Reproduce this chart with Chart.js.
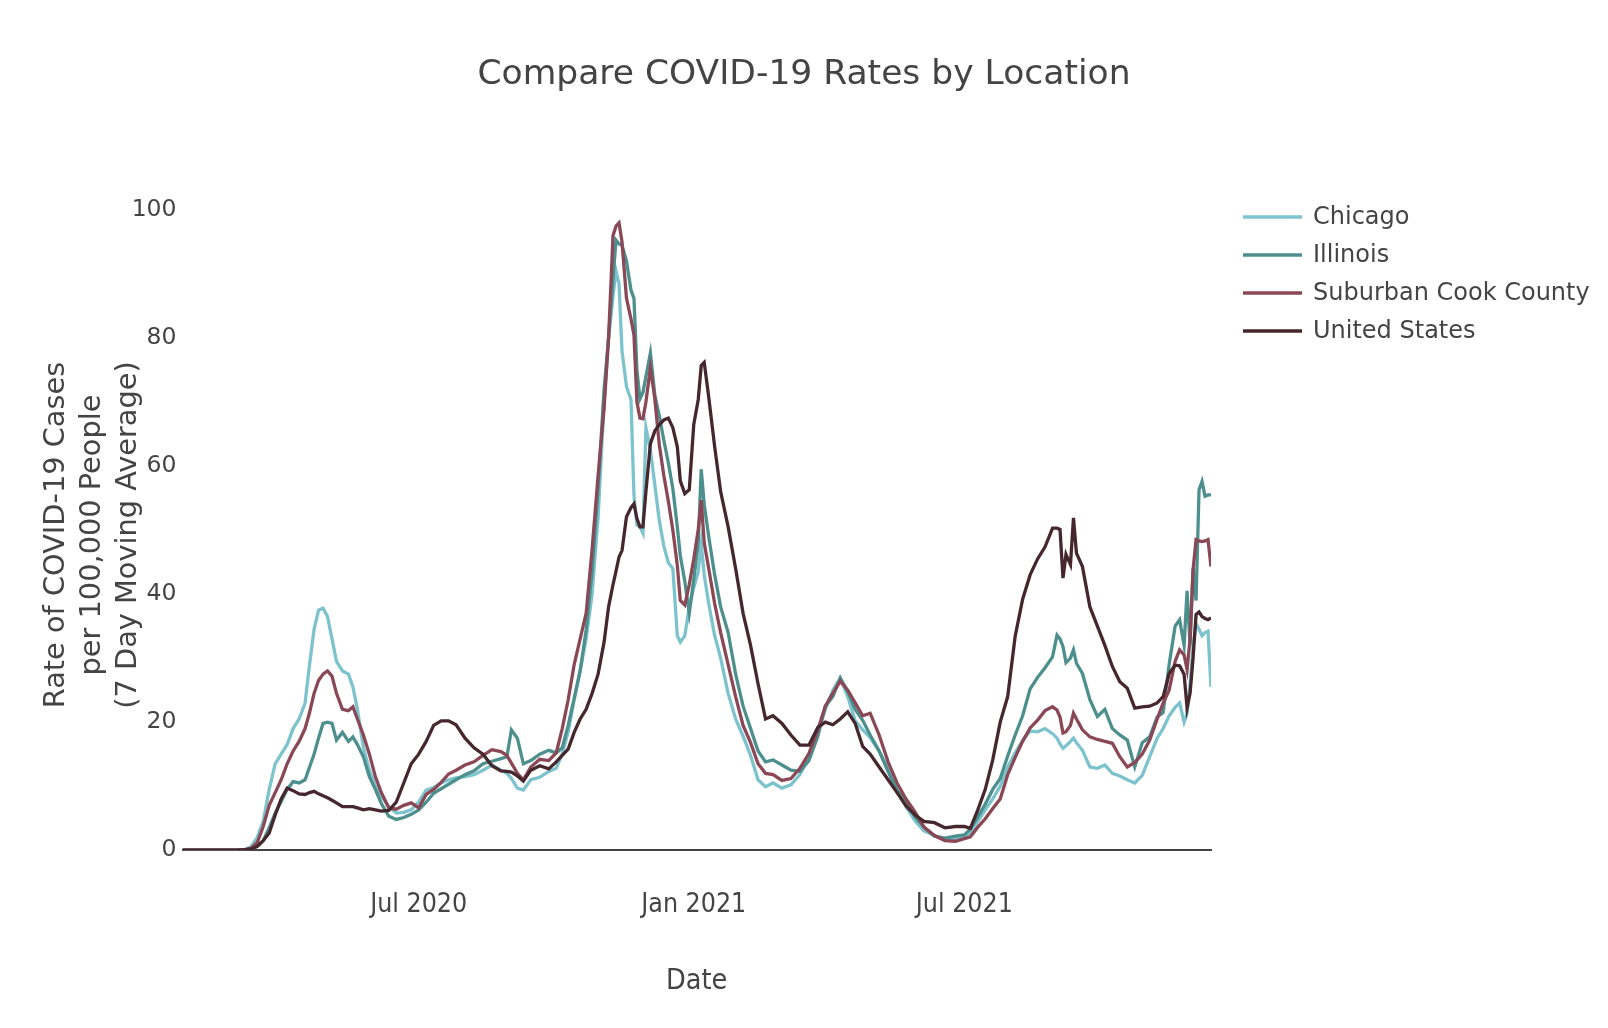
<!DOCTYPE html>
<html>
<head>
<meta charset="utf-8">
<title>Compare COVID-19 Rates by Location</title>
<script src="https://cdn.jsdelivr.net/npm/chart.js@4.4.1/dist/chart.umd.min.js"></script>
<style>
  html, body { margin: 0; padding: 0; background: #fff; }
  #wrap { width: 1608px; height: 1028px; }
</style>
</head>
<body>
<div id="wrap"><canvas id="chart" width="1608" height="1028"></canvas></div>
<script>
// Fechas muestreadas (media movil de 7 dias)
const dates = [
  '2020-01-25', '2020-03-01', '2020-03-07', '2020-03-11', '2020-03-15', '2020-03-19', '2020-03-23', '2020-03-27',
  '2020-03-31', '2020-04-04', '2020-04-08', '2020-04-12', '2020-04-16', '2020-04-19', '2020-04-22', '2020-04-25',
  '2020-04-28', '2020-05-01', '2020-05-04', '2020-05-07', '2020-05-11', '2020-05-15', '2020-05-18', '2020-05-21',
  '2020-05-25', '2020-05-29', '2020-06-02', '2020-06-06', '2020-06-11', '2020-06-16', '2020-06-21', '2020-06-26',
  '2020-07-01', '2020-07-06', '2020-07-11', '2020-07-16', '2020-07-21', '2020-07-26', '2020-08-01', '2020-08-07',
  '2020-08-13', '2020-08-19', '2020-08-25', '2020-08-29', '2020-09-01', '2020-09-05', '2020-09-09', '2020-09-14',
  '2020-09-20', '2020-09-26', '2020-10-01', '2020-10-05', '2020-10-09', '2020-10-13', '2020-10-17', '2020-10-21',
  '2020-10-25', '2020-10-29', '2020-11-02', '2020-11-05', '2020-11-08', '2020-11-10', '2020-11-12', '2020-11-14',
  '2020-11-17', '2020-11-20', '2020-11-22', '2020-11-24', '2020-11-26', '2020-11-28', '2020-11-30', '2020-12-03',
  '2020-12-06', '2020-12-09', '2020-12-12', '2020-12-15', '2020-12-18', '2020-12-21', '2020-12-23', '2020-12-26',
  '2020-12-29', '2021-01-01', '2021-01-04', '2021-01-06', '2021-01-08', '2021-01-11', '2021-01-15', '2021-01-19',
  '2021-01-24', '2021-01-29', '2021-02-03', '2021-02-08', '2021-02-13', '2021-02-18', '2021-02-23', '2021-03-01',
  '2021-03-07', '2021-03-13', '2021-03-19', '2021-03-25', '2021-03-30', '2021-04-04', '2021-04-09', '2021-04-14',
  '2021-04-19', '2021-04-24', '2021-04-29', '2021-05-05', '2021-05-11', '2021-05-17', '2021-05-23', '2021-05-29',
  '2021-06-04', '2021-06-11', '2021-06-18', '2021-06-25', '2021-07-01', '2021-07-05', '2021-07-10', '2021-07-15',
  '2021-07-20', '2021-07-25', '2021-07-30', '2021-08-04', '2021-08-09', '2021-08-14', '2021-08-19', '2021-08-24',
  '2021-08-29', '2021-09-01', '2021-09-03', '2021-09-05', '2021-09-07', '2021-09-10', '2021-09-12', '2021-09-14',
  '2021-09-18', '2021-09-23', '2021-09-28', '2021-10-03', '2021-10-08', '2021-10-13', '2021-10-18', '2021-10-23',
  '2021-10-28', '2021-11-02', '2021-11-07', '2021-11-11', '2021-11-15', '2021-11-19', '2021-11-22', '2021-11-25',
  '2021-11-27', '2021-11-29', '2021-12-01', '2021-12-03', '2021-12-05', '2021-12-07', '2021-12-09', '2021-12-11',
  '2021-12-13'
];

const chicago = [
  0, 0, 0.1, 0.6, 2.0, 4.5, 9.5, 13.5,
  15.0, 16.5, 19.0, 20.5, 23.0, 29.0, 34.5, 37.5,
  37.8, 36.5, 33.0, 29.5, 28.0, 27.5, 25.5, 22.0,
  16.0, 12.5, 10.0, 8.5, 6.8, 5.8, 5.9, 6.3,
  7.5, 9.4, 9.8, 10.5, 11.0, 11.3, 11.5, 11.8,
  12.5, 13.3, 12.5, 12.0, 11.2, 9.7, 9.4, 11.0,
  11.4, 12.3, 12.8, 15.0, 18.5, 23.5, 28.0, 33.0,
  40.0, 52.0, 70.0, 80.0, 86.5, 90.5, 88.5, 78.0,
  72.4, 70.4, 55.4, 50.8, 50.5, 49.5, 66.0, 62.5,
  57.0, 51.4, 47.5, 44.9, 44.0, 33.5, 32.5, 33.5,
  38.0, 41.0, 43.5, 47.8, 43.0, 38.5, 33.5, 30.0,
  24.5, 20.5, 17.8, 14.8, 11.0, 9.9, 10.5, 9.7,
  10.2, 11.8, 14.5, 18.5, 22.0, 25.0, 26.9, 24.0,
  20.2, 18.8, 17.6, 15.5, 12.8, 9.7, 6.8, 4.6,
  3.0, 2.3, 1.6, 1.8, 2.1, 2.8, 4.5, 6.3,
  8.0, 10.0, 13.0, 15.2, 17.2, 18.6, 18.5, 19.0,
  18.2, 17.5, 16.6, 15.9, 16.3, 17.0, 17.5, 16.8,
  15.6, 13.0, 12.8, 13.3, 12.0, 11.6, 11.0, 10.5,
  11.7, 14.6, 17.5, 19.0, 21.0, 22.3, 23.0, 20.0,
  21.4, 26.0, 31.8, 35.4, 34.5, 33.5, 34.0, 34.2,
  25.5
];

const illinois = [
  0, 0, 0.05, 0.2, 0.6, 1.5, 3.5, 5.8,
  7.6, 9.5, 10.7, 10.5, 11.0, 13.0, 15.0, 17.5,
  19.8, 20.0, 19.8, 17.2, 18.4, 17.0, 17.7, 16.5,
  14.6, 11.5, 9.5, 7.3, 5.3, 4.8, 5.1, 5.6,
  6.3, 7.5, 8.9, 9.6, 10.3, 11.0, 11.8, 12.4,
  13.5, 13.9, 14.3, 14.6, 18.8, 17.5, 13.5, 14.0,
  15.0, 15.6, 15.2, 16.0, 19.5, 23.7, 28.0, 34.4,
  43.5, 56.5, 72.0, 80.0, 89.4, 95.3, 94.7, 94.5,
  92.0, 87.5, 86.2, 75.0, 70.5, 71.5, 74.0, 77.7,
  71.0, 67.8, 64.0, 60.5, 56.5, 50.5, 46.0, 42.0,
  37.0, 42.3, 48.0, 59.5, 54.0, 49.0, 43.0, 38.0,
  34.0, 27.5, 22.5, 19.0, 15.5, 13.8, 14.1, 13.3,
  12.5, 12.3, 14.0, 17.8, 22.5, 24.0, 26.9, 24.8,
  22.0, 20.3, 18.0, 15.5, 12.3, 9.3, 7.8, 5.2,
  3.6, 2.2, 1.9, 2.2, 2.4, 3.3, 5.2, 7.2,
  9.5, 11.2, 14.7, 18.0, 21.0, 25.2, 27.0, 28.5,
  30.2, 33.6, 33.0, 31.8, 29.3, 30.0, 31.3, 29.2,
  27.6, 23.5, 20.9, 22.0, 19.0, 18.0, 17.2, 13.0,
  16.8, 17.7, 20.8, 21.5, 29.0, 35.0, 36.0, 32.0,
  40.5, 32.0, 44.0, 39.0, 56.3, 57.6, 55.3, 55.5,
  55.5
];

const suburbanCook = [
  0, 0, 0.1, 0.3, 1.2, 3.7, 7.0, 9.0,
  11.0, 13.5, 15.5, 17.0, 19.0, 21.5, 24.5, 26.5,
  27.5, 28.0, 27.2, 24.5, 22.0, 21.8, 22.4, 20.5,
  18.0, 15.0, 11.5, 9.0, 6.6, 6.4, 7.0, 7.4,
  6.6, 8.7, 9.5, 10.6, 11.9, 12.5, 13.3, 13.8,
  14.8, 15.7, 15.4, 14.8, 13.6, 12.0, 11.0, 13.0,
  14.2, 14.0, 15.2, 19.0, 23.5, 29.0, 33.0, 37.0,
  47.0, 58.5, 69.0, 80.0, 96.0, 97.5, 98.0, 95.0,
  86.2, 83.0, 80.5, 70.0, 67.5, 67.4, 70.0, 75.4,
  70.4, 63.2, 58.5, 54.5, 50.0, 44.5, 39.0, 38.3,
  41.5, 45.5, 50.1, 54.7, 48.0, 44.0, 38.5, 34.0,
  29.0, 24.0, 19.5, 16.8, 13.5, 12.0, 11.8, 10.9,
  11.2, 12.8, 15.1, 18.8, 22.5, 24.5, 26.4, 25.0,
  23.0, 21.0, 21.4, 18.0, 13.8, 10.5, 8.0, 6.0,
  3.6, 2.3, 1.5, 1.4, 1.8, 2.1, 3.6, 4.9,
  6.5, 8.0, 11.8, 14.5, 17.0, 19.1, 20.3, 21.8,
  22.4, 21.9, 20.8, 18.3, 18.5, 19.5, 21.4, 20.5,
  18.8, 17.7, 17.3, 17.0, 16.7, 14.6, 13.0, 13.7,
  15.0, 17.2, 20.5, 23.0, 25.0, 29.5, 31.3, 30.5,
  28.2, 33.0, 43.8, 48.5, 48.3, 48.2, 48.3, 48.5,
  44.3
];

const unitedStates = [
  0, 0, 0.1, 0.2, 0.6, 1.5, 2.7, 5.5,
  8.0, 9.7, 9.3, 8.8, 8.7, 9.0, 9.2, 8.8,
  8.5, 8.2, 7.8, 7.4, 6.8, 6.8, 6.8, 6.6,
  6.3, 6.5, 6.3, 6.1, 6.2, 7.5, 10.5, 13.5,
  15.0, 17.0, 19.5, 20.2, 20.2, 19.6, 17.5, 16.0,
  15.0, 13.2, 12.4, 12.3, 12.2, 11.6, 10.8, 12.5,
  13.2, 12.7, 13.8, 14.8, 15.8, 18.4, 20.5, 22.0,
  24.5, 27.5, 32.5, 38.0, 41.5, 43.6, 45.8, 46.8,
  52.1, 53.5, 54.1, 51.8, 50.5, 50.5, 56.0, 63.5,
  65.5, 66.5, 67.2, 67.5, 66.0, 63.0, 57.7, 55.7,
  56.3, 66.5, 70.4, 75.7, 76.2, 70.8, 63.0, 56.0,
  50.5, 44.0, 37.0, 32.0, 26.0, 20.5, 21.0, 19.8,
  18.0, 16.4, 16.4, 19.2, 20.0, 19.6, 20.5, 21.6,
  19.8, 16.2, 15.0, 13.0, 11.0, 9.0, 6.9, 5.5,
  4.5, 4.3, 3.5, 3.7, 3.7, 3.4, 6.3, 9.5,
  14.1, 20.0, 24.0, 33.4, 39.2, 43.0, 45.5, 47.4,
  50.3, 50.3, 50.1, 42.5, 46.2, 44.6, 51.9, 46.4,
  44.3, 38.0, 35.0, 32.0, 28.7, 26.3, 25.3, 22.2,
  22.4, 22.5, 23.0, 24.0, 27.6, 28.9, 28.8, 27.5,
  22.2, 24.5, 30.0, 36.8, 37.2, 36.5, 36.2, 36.0,
  36.3
];

const seriesNames = ['Chicago', 'Illinois', 'Suburban Cook County', 'United States'];
const seriesValues = [chicago, illinois, suburbanCook, unitedStates];
const seriesColors = ['#7cc3ce', '#4d8f8d', '#8a4856', '#45272d'];

const xTickDates = ['2020-07-01', '2021-01-01', '2021-07-01'];
const xTickLabels = ['Jul 2020', 'Jan 2021', 'Jul 2021'];
const yTicks = [0, 20, 40, 60, 80, 100];

const chartTitle = 'Compare COVID-19 Rates by Location';
const yTitleLines = ['Rate of COVID-19 Cases', 'per 100,000 People', '(7 Day Moving Average)'];

const toTime = s => Date.parse(s + 'T00:00:00Z');
const fontMain = '"DejaVu Sans", Verdana, sans-serif';
const fontNarrow = '"DejaVu Sans Condensed", "Liberation Sans Narrow", "DejaVu Sans", sans-serif';

Chart.defaults.font.family = fontMain;
Chart.defaults.color = '#444';

// Titulo, titulo del eje Y y leyenda dibujados a mano (como plotly)
const plotlyDecor = {
  id: 'plotlyDecor',
  afterDraw(chart) {
    const ctx = chart.ctx;
    ctx.save();
    ctx.fillStyle = '#444';
    ctx.textBaseline = 'middle';

    // titulo centrado en todo el lienzo
    ctx.font = '34.5px ' + fontMain;
    ctx.textAlign = 'center';
    ctx.fillText(chartTitle, chart.width / 2, 75);

    // titulo del eje Y, tres lineas giradas
    ctx.font = '28.8px ' + fontMain;
    yTitleLines.forEach((line, i) => {
      ctx.save();
      ctx.translate(56.5 + i * 36, 535);
      ctx.rotate(-Math.PI / 2);
      ctx.fillText(line, 0, 0);
      ctx.restore();
    });

    // leyenda
    ctx.font = '24px ' + fontMain;
    ctx.textAlign = 'left';
    seriesNames.forEach((name, i) => {
      const y = 217 + i * 38;
      ctx.strokeStyle = seriesColors[i];
      ctx.lineWidth = 3.5;
      ctx.beginPath();
      ctx.moveTo(1243, y);
      ctx.lineTo(1302, y);
      ctx.stroke();
      ctx.fillText(name, 1313, y + 1);
    });
    ctx.restore();
  }
};

const datasets = seriesNames.map((name, i) => ({
  label: name,
  data: dates.map((d, j) => ({ x: toTime(d), y: seriesValues[i][j] })),
  borderColor: seriesColors[i],
  backgroundColor: seriesColors[i],
  borderWidth: 3.3,
  pointRadius: 0,
  tension: 0,
  fill: false,
  order: seriesNames.length - 1 - i
}));

new Chart(document.getElementById('chart'), {
  type: 'line',
  data: { datasets },
  plugins: [plotlyDecor],
  options: {
    responsive: false,
    animation: false,
    events: [],
    layout: { padding: { left: 0, right: 397, top: 187.6, bottom: 0 } },
    plugins: {
      legend: { display: false },
      tooltip: { enabled: false },
      title: { display: false }
    },
    scales: {
      x: {
        type: 'linear',
        min: toTime(dates[0]),
        max: toTime(dates[dates.length - 1]),
        afterBuildTicks: scale => {
          scale.ticks = xTickDates.map(d => ({ value: toTime(d) }));
        },
        afterFit: scale => { scale.height = 177.8; },
        grid: { display: false, drawTicks: false },
        border: { display: true, color: '#444', width: 2 },
        ticks: {
          padding: 39.5,
          maxRotation: 0,
          font: { size: 26.5, family: fontNarrow },
          color: '#444',
          callback: value => xTickLabels[xTickDates.map(toTime).indexOf(value)]
        },
        title: {
          display: true,
          text: 'Date',
          color: '#444',
          font: { size: 28.5, family: fontNarrow },
          padding: { top: 0, bottom: 29 }
        }
      },
      y: {
        type: 'linear',
        min: 0,
        max: 103.5,
        afterBuildTicks: scale => {
          scale.ticks = yTicks.map(v => ({ value: v }));
        },
        afterFit: scale => { scale.width = 182.5; },
        grid: { display: false, drawTicks: false },
        border: { display: false },
        ticks: {
          padding: 6,
          font: { size: 23.5, family: fontMain },
          color: '#444'
        },
        title: { display: false }
      }
    }
  }
});
</script>
</body>
</html>
